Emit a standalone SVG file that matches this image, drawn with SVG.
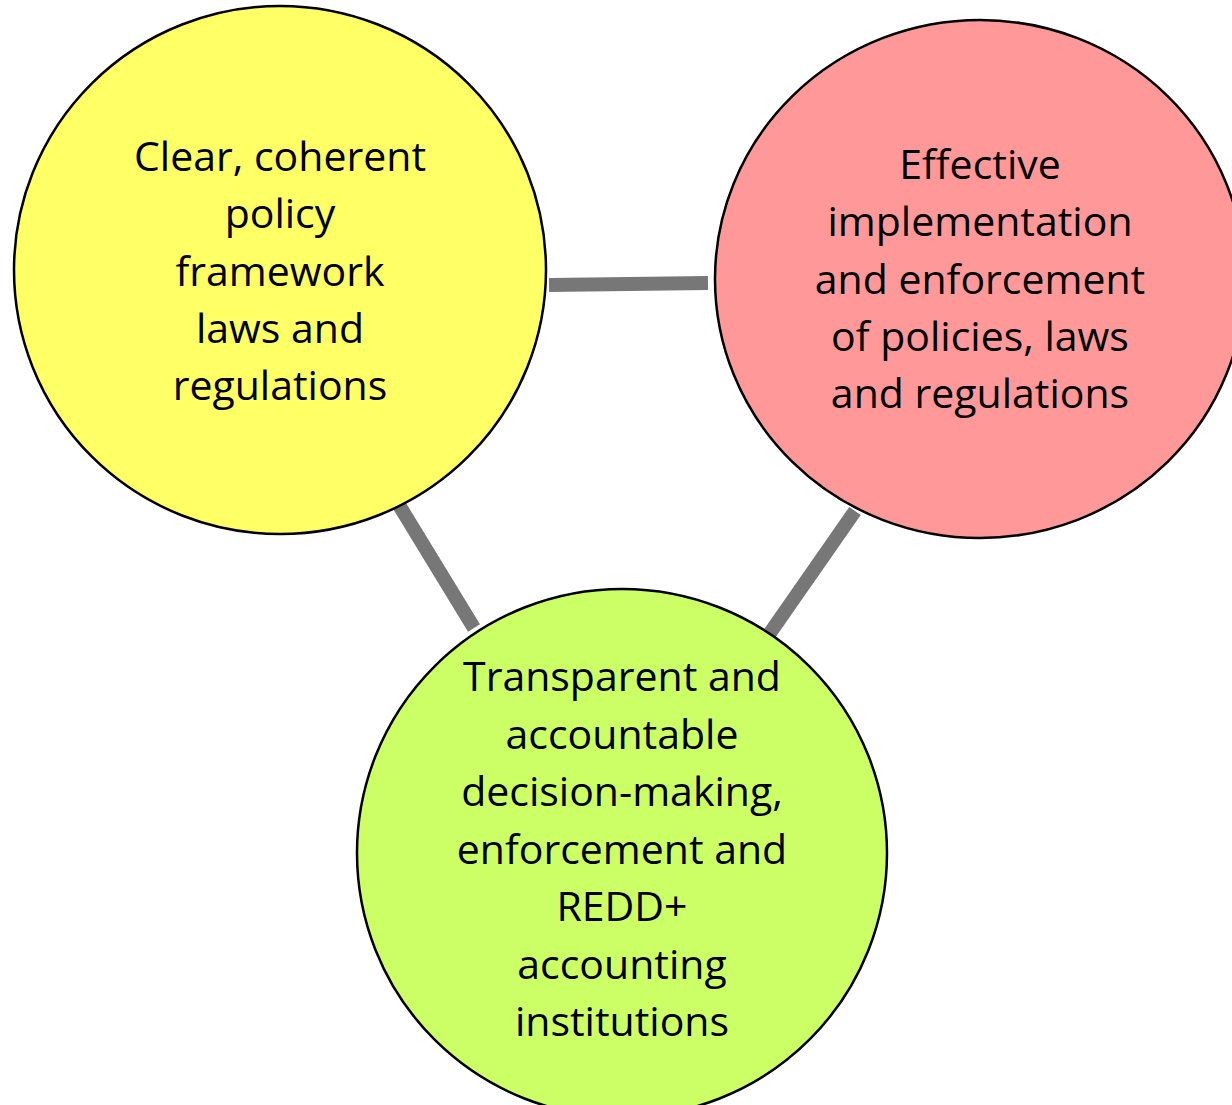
<svg xmlns="http://www.w3.org/2000/svg" width="1232" height="1105" viewBox="0 0 1232 1105">
  <style>
    .node { stroke: #000; stroke-width: 2.5; }
    .link { stroke: #777777; stroke-width: 14; stroke-linecap: butt; fill: none; }
    .label { font-family: "Open Sans", "Liberation Sans", sans-serif; font-size: 41px; fill: #000; text-anchor: middle; }
  </style>
  <rect width="1232" height="1105" fill="#ffffff"/>

  <g id="connectors">
    <line class="link" x1="549" y1="285" x2="708" y2="283"/>
    <line class="link" x1="399" y1="505" x2="474" y2="628"/>
    <line class="link" x1="855" y1="511" x2="770" y2="633"/>
  </g>

  <g id="policy-framework">
    <ellipse class="node" cx="280" cy="270" rx="266" ry="264" fill="#FFFF66"/>
    <text class="label" x="280" y="171">Clear, coherent</text>
    <text class="label" x="280" y="228">policy</text>
    <text class="label" x="280" y="286">framework</text>
    <text class="label" x="280" y="343">laws and</text>
    <text class="label" x="280" y="400">regulations</text>
  </g>

  <g id="implementation">
    <ellipse class="node" cx="980" cy="279" rx="265" ry="259" fill="#FF9999"/>
    <text class="label" x="980" y="179">Effective</text>
    <text class="label" x="980" y="236">implementation</text>
    <text class="label" x="980" y="294">and enforcement</text>
    <text class="label" x="980" y="351">of policies, laws</text>
    <text class="label" x="980" y="408">and regulations</text>
  </g>

  <g id="institutions">
    <ellipse class="node" cx="622" cy="853" rx="265" ry="264" fill="#CCFF66"/>
    <text class="label" x="622" y="691">Transparent and</text>
    <text class="label" x="622" y="749">accountable</text>
    <text class="label" x="622" y="806">decision-making,</text>
    <text class="label" x="622" y="864">enforcement and</text>
    <text class="label" x="622" y="921">REDD+</text>
    <text class="label" x="622" y="979">accounting</text>
    <text class="label" x="622" y="1036">institutions</text>
  </g>
</svg>
